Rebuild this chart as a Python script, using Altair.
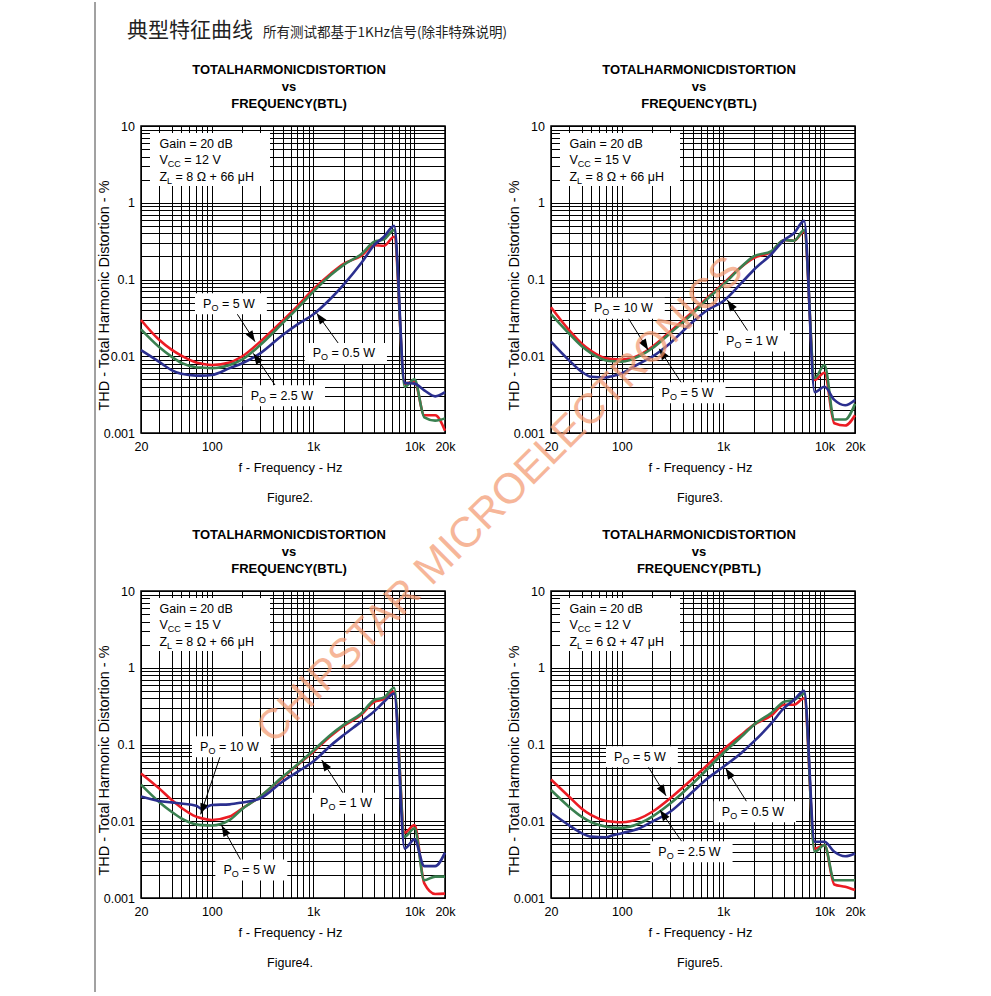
import math
import altair as alt
import pandas as pd

FONT = "Liberation Sans"
CJK = "Noto Sans CJK SC"

# ---------------- data ----------------
FREQ = [20, 30, 40, 50, 70, 80, 100, 150, 200, 300, 500, 700, 1000, 1500, 2000,
        3000, 4000, 5000, 6300, 8000, 10000, 12500, 16000, 20000]

# Figure 2 (Vcc 12 V, 8 ohm)  red = 5 W, green = 2.5 W, blue = 0.5 W
F2_RED = [0.0297, 0.0165, 0.0122, 0.0102, 0.0083, 0.0080, 0.0077, 0.0083, 0.0100, 0.0155, 0.029, 0.045,
          0.074, 0.12, 0.16, 0.205, 0.28, 0.275, 0.36, 0.0044, 0.0047, 0.0017, 0.0017, 0.00107]
F2_GREEN = [0.0224, 0.0133, 0.0099, 0.0082, 0.0072, 0.0071, 0.0070, 0.0077, 0.0091, 0.014, 0.027, 0.042,
            0.069, 0.115, 0.155, 0.215, 0.31, 0.333, 0.44, 0.0040, 0.0050, 0.0016, 0.00145, 0.00155]
F2_BLUE = [0.012, 0.0085, 0.0066, 0.0059, 0.0056, 0.0056, 0.0057, 0.0070, 0.0081, 0.0109, 0.0189, 0.026,
           0.035, 0.057, 0.086, 0.165, 0.28, 0.36, 0.50, 0.0045, 0.0044, 0.0036, 0.0030, 0.0034]

# Figure 3 (Vcc 15 V, 8 ohm)  red = 10 W, green = 5 W, blue = 1 W
F3_RED = [0.0434, 0.022, 0.0147, 0.0117, 0.0094, 0.0092, 0.0091, 0.0104, 0.0133, 0.021, 0.038, 0.058,
          0.088, 0.145, 0.19, 0.23, 0.327, 0.32, 0.42, 0.0049, 0.0061, 0.00134, 0.00125, 0.0017]
F3_GREEN = [0.0355, 0.0199, 0.0136, 0.0109, 0.0088, 0.0086, 0.0085, 0.0101, 0.0127, 0.020, 0.036, 0.056,
            0.085, 0.145, 0.20, 0.235, 0.327, 0.32, 0.44, 0.0052, 0.0077, 0.0015, 0.0015, 0.0024]
F3_BLUE = [0.0155, 0.0089, 0.0063, 0.0054, 0.0053, 0.0055, 0.0060, 0.0081, 0.0099, 0.0148, 0.028, 0.040,
           0.052, 0.089, 0.133, 0.215, 0.327, 0.40, 0.58, 0.0034, 0.0040, 0.0027, 0.0023, 0.0027]

# Figure 4 (Vcc 15 V, 8 ohm)  red = 10 W, green = 5 W, blue = 1 W
F4_RED = [0.042, 0.027, 0.019, 0.015, 0.0115, 0.0109, 0.0104, 0.0115, 0.0147, 0.021, 0.037, 0.054,
          0.080, 0.13, 0.175, 0.245, 0.36, 0.39, 0.49, 0.0071, 0.0089, 0.00155, 0.00113, 0.00114]
F4_GREEN = [0.030, 0.018, 0.0133, 0.0109, 0.0091, 0.0089, 0.0088, 0.0104, 0.0145, 0.021, 0.038, 0.055,
            0.083, 0.135, 0.18, 0.255, 0.38, 0.41, 0.55, 0.0063, 0.0081, 0.0017, 0.0019, 0.0019]
F4_BLUE = [0.021, 0.0184, 0.0176, 0.0170, 0.0159, 0.0145, 0.0163, 0.0166, 0.0176, 0.0198, 0.033, 0.044,
           0.060, 0.098, 0.133, 0.20, 0.27, 0.36, 0.46, 0.0044, 0.0058, 0.0026, 0.0026, 0.0039]

# Figure 5 (Vcc 12 V, 6 ohm)  red = 5 W, green = 2.5 W, blue = 0.5 W
F5_RED = [0.035, 0.021, 0.0147, 0.012, 0.0101, 0.0099, 0.0097, 0.0109, 0.0133, 0.020, 0.036, 0.054,
          0.085, 0.133, 0.18, 0.24, 0.33, 0.33, 0.40, 0.0044, 0.0049, 0.0015, 0.0014, 0.00127]
F5_GREEN = [0.0255, 0.0155, 0.0115, 0.0097, 0.0085, 0.0083, 0.0082, 0.0094, 0.0115, 0.017, 0.031, 0.048,
            0.077, 0.125, 0.18, 0.26, 0.36, 0.38, 0.46, 0.0040, 0.0049, 0.0017, 0.0017, 0.0017]
F5_BLUE = [0.0129, 0.0089, 0.0070, 0.0063, 0.0062, 0.0065, 0.0070, 0.0081, 0.0099, 0.0133, 0.0243, 0.036,
           0.051, 0.077, 0.109, 0.19, 0.30, 0.38, 0.50, 0.0054, 0.0054, 0.0040, 0.0035, 0.0038]

FIGURES = ["Figure2.", "Figure3.", "Figure4.", "Figure5."]
MODES = ["BTL", "BTL", "BTL", "PBTL"]
VCC = ["12", "15", "15", "12"]
ZL = ["8 \u03a9 + 66 \u03bcH", "8 \u03a9 + 66 \u03bcH", "8 \u03a9 + 66 \u03bcH", "6 \u03a9 + 47 \u03bcH"]

# annotations: label text, label anchor (f, thd), arrow tail (f, thd), arrow tip (f, thd)
A2_TEXT = ["5 W", "0.5 W", "2.5 W"]
A2_LAB_F = [81.8, 989, 242]
A2_LAB_T = [0.0484, 0.0109, 0.00306]
A2_TAIL_F = [176, 1771, 420]
A2_TAIL_T = [0.0363, 0.01475, 0.00422]
A2_TIP_F = [267, 1084, 257]
A2_TIP_T = [0.0155, 0.0363, 0.0109]

A3_TEXT = ["10 W", "1 W", "5 W"]
A3_LAB_F = [53.1, 1067, 247]
A3_LAB_T = [0.0422, 0.0158, 0.00335]
A3_TAIL_F = [116, 1771, 390]
A3_TAIL_T = [0.0312, 0.0209, 0.00444]
A3_TIP_F = [182, 1099, 234]
A3_TIP_T = [0.01205, 0.054, 0.0125]

A4_TEXT = ["10 W", "1 W", "5 W"]
A4_LAB_F = [76.4, 1169, 130]
A4_LAB_T = [0.0935, 0.0171, 0.00232]
A4_TAIL_F = [120.5, 1983, 197]
A4_TAIL_T = [0.0693, 0.0231, 0.00297]
A4_TIP_F = [77.6, 1214, 125]
A4_TIP_T = [0.0123, 0.0628, 0.0088]

A5_TEXT = ["5 W", "0.5 W", "2.5 W"]
A5_LAB_F = [83.7, 968, 229]
A5_LAB_T = [0.0693, 0.0133, 0.0040]
A5_TAIL_F = [182, 1706, 390]
A5_TAIL_T = [0.0514, 0.018, 0.00545]
A5_TIP_F = [273, 1059, 238]
A5_TIP_T = [0.0215, 0.049, 0.014]

SERIES = [(F2_RED, F2_GREEN, F2_BLUE), (F3_RED, F3_GREEN, F3_BLUE),
          (F4_RED, F4_GREEN, F4_BLUE), (F5_RED, F5_GREEN, F5_BLUE)]
ANN = [(A2_TEXT, A2_LAB_F, A2_LAB_T, A2_TAIL_F, A2_TAIL_T, A2_TIP_F, A2_TIP_T),
       (A3_TEXT, A3_LAB_F, A3_LAB_T, A3_TAIL_F, A3_TAIL_T, A3_TIP_F, A3_TIP_T),
       (A4_TEXT, A4_LAB_F, A4_LAB_T, A4_TAIL_F, A4_TAIL_T, A4_TIP_F, A4_TIP_T),
       (A5_TEXT, A5_LAB_F, A5_LAB_T, A5_TAIL_F, A5_TAIL_T, A5_TIP_F, A5_TIP_T)]

# ---------------- styling ----------------
COLORS = ["#ec1c24", "#3a8050", "#2b2f8f"]
W, H = 304, 307
FS = 12.5

XS = alt.Scale(type="log", domain=[20, 20000], nice=False)
YS = alt.Scale(type="log", domain=[0.001, 10], nice=False)
XGRID = [m * 10 ** e for e in (1, 2, 3) for m in range(1, 10) if m * 10 ** e >= 20] + [10000, 20000]
YGRID = [m * 10.0 ** e for e in (-3, -2, -1, 0) for m in range(1, 10)] + [10]

XAX = alt.Axis(values=XGRID, grid=True, gridColor="#000", gridWidth=1, gridOpacity=1,
               domain=False, ticks=False, tickSize=0, labelFlush=False, labelOverlap=False,
               labelExpr="datum.value == 20 ? '20' : datum.value == 100 ? '100' : datum.value == 1000 ? '1k' : datum.value == 10000 ? '10k' : datum.value == 20000 ? '20k' : ''",
               labelPadding=7, labelFont=FONT, labelFontSize=FS, labelColor="#000",
               title="f - Frequency - Hz", titleFont=FONT, titleFontSize=13, titleFontWeight="normal",
               titleColor="#000", titleX=149, titleY=34, titleBaseline="middle", titleAlign="center")
YAX = alt.Axis(values=YGRID, grid=True, gridColor="#000", gridWidth=1, gridOpacity=1,
               domain=False, ticks=False, tickSize=0, labelFlush=False, labelOverlap=False,
               labelExpr="datum.value == 10 ? '10' : datum.value == 1 ? '1' : datum.value == 0.1 ? '0.1' : datum.value == 0.01 ? '0.01' : datum.value == 0.001 ? '0.001' : ''",
               labelPadding=6.5, labelFont=FONT, labelFontSize=FS, labelColor="#000",
               title="THD - Total Harmonic Distortion - %", titleFont=FONT, titleFontSize=14.5,
               titleFontWeight="normal", titleColor="#000", titleAngle=270,
               titleX=-36.5, titleY=169, titleBaseline="middle", titleAlign="center")

CHARW = {" ": 0.278, "=": 0.584, ".": 0.278, "W": 0.944}
ARROW = "M0,0L-4,11L4,11Z"
ONE = pd.DataFrame({"d": [0]})


def X(field):
    return alt.X(f"{field}:Q", scale=XS, axis=XAX)


def Y(field):
    return alt.Y(f"{field}:Q", scale=YS, axis=YAX)


def txt(s, x, y, size=FS, weight="normal", align="left", font=FONT, color="#000", **kw):
    return alt.Chart(pd.DataFrame({"s": [s]})).mark_text(
        align=align, baseline="middle", font=font, fontSize=size, fontWeight=weight,
        color=color, **kw).encode(x=alt.value(x), y=alt.value(y), text="s:N")


def text_width(s, size):
    return sum(CHARW.get(c, 0.556) for c in s) * size


def panel(i):
    red, green, blue = SERIES[i]
    texts, lab_f, lab_t, tail_f, tail_t, tip_f, tip_t = ANN[i]
    layers = []

    if i == 0:
        layers.append(alt.Chart(ONE).mark_rect(fill="white", fillOpacity=0, strokeOpacity=0).encode(
            x=alt.value(-140), x2=alt.value(849), y=alt.value(-124), y2=alt.value(867)))
        layers.append(alt.Chart(ONE).mark_rule(color="#444", strokeWidth=1).encode(
            x=alt.value(-46), y=alt.value(-124), y2=alt.value(866)))
        layers.append(txt("典型特征曲线", -14, -95, size=21, font=CJK, color="#222"))
        layers.append(txt("所有测试都基于1KHz信号(除非特殊说明)", 122, -93, size=13.5, font=CJK, color="#222"))

    # condition box
    layers.append(alt.Chart(ONE).mark_rect(color="white").encode(
        x=alt.value(9), x2=alt.value(129), y=alt.value(7), y2=alt.value(60)))
    layers.append(txt("Gain = 20 dB", 18.5, 17.5))
    layers.append(txt("V", 18.5, 34))
    layers.append(txt("CC", 26.8, 38, size=9))
    layers.append(txt(f"= {VCC[i]} V", 43.3, 34))
    layers.append(txt("Z", 18.5, 50.5))
    layers.append(txt("L", 26.1, 54.5, size=9))
    layers.append(txt(f"= {ZL[i]}", 34.6, 50.5))

    # curves
    for vals, col in zip((red, green, blue), COLORS):
        df = pd.DataFrame({"f": FREQ, "t": vals})
        layers.append(alt.Chart(df).mark_line(color=col, strokeWidth=2.6, interpolate="monotone").encode(
            x=X("f"), y=Y("t")))

    # annotations
    px_x = W / 3.0
    px_y = H / 4.0
    rows = []
    for k in range(len(texts)):
        dx = (math.log10(tip_f[k]) - math.log10(tail_f[k])) * px_x
        dy = -(math.log10(tip_t[k]) - math.log10(tail_t[k])) * px_y
        ang = math.degrees(math.atan2(dx, -dy)) % 360
        tw = 8.4 + 7.0 + 3.5 + text_width("= " + texts[k], FS)
        box = f"M-8,-10.5L{tw + 12:.1f},-10.5L{tw + 12:.1f},10.5L-8,10.5Z"
        rows.append(dict(lf=lab_f[k], lt=lab_t[k], tf=tail_f[k], tt=tail_t[k], pf=tip_f[k], pt=tip_t[k],
                         rest="= " + texts[k], ang=ang, box=box))
    adf = pd.DataFrame(rows)
    base = alt.Chart(adf)
    layers.append(base.mark_rule(color="#000", strokeWidth=1).encode(
        x=X("tf"), y=Y("tt"), x2="pf:Q", y2="pt:Q"))
    layers.append(base.mark_point(filled=True, color="white", size=4, opacity=1, strokeWidth=0).encode(
        x=X("lf"), y=Y("lt"), shape=alt.Shape("box:N", scale=None)))
    layers.append(base.mark_text(text="P", align="left", baseline="middle", font=FONT, fontSize=FS,
                                 color="#000").encode(x=X("lf"), y=Y("lt")))
    layers.append(base.mark_text(text="O", align="left", baseline="middle", font=FONT, fontSize=9,
                                 color="#000", dx=8.4, dy=4).encode(x=X("lf"), y=Y("lt")))
    layers.append(base.mark_text(align="left", baseline="middle", font=FONT, fontSize=FS, color="#000",
                                 dx=18.9).encode(x=X("lf"), y=Y("lt"), text="rest:N"))
    layers.append(base.mark_point(shape=ARROW, filled=True, color="#000", size=4, opacity=1,
                                  strokeWidth=0).encode(x=X("pf"), y=Y("pt"),
                                                        angle=alt.Angle("ang:Q", scale=None)))

    # titles and caption
    layers.append(txt("TOTALHARMONICDISTORTION", 148, -56.5, size=13, weight="bold", align="center"))
    layers.append(txt("vs", 148, -39.5, size=13, weight="bold", align="center"))
    layers.append(txt(f"FREQUENCY({MODES[i]})", 148, -22.5, size=13, weight="bold", align="center"))
    layers.append(txt(FIGURES[i], 149, 372, size=FS, align="center"))

    if i == 2:
        layers.append(txt("CHIPSTAR MICROELECTRONICS", 359, -91, size=42.5, align="center",
                          color="#F39A72", angle=315, opacity=0.72))

    return alt.layer(*layers).properties(width=W, height=H)


chart = alt.concat(*[panel(i) for i in range(4)], columns=2,
                   spacing={"row": 158, "column": 106}, bounds="flush").properties(
    padding=0).configure_view(stroke="#000", strokeWidth=1.5)

chart.save("out.html", embed_options={"renderer": "svg", "actions": False})
